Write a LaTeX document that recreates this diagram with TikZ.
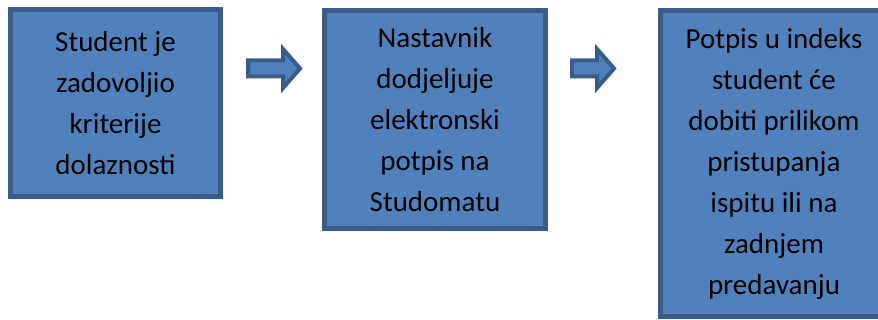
\documentclass[tikz,border=0pt]{standalone}
\usepackage{fontspec}
\setmainfont{Carlito}
\usepackage{tikz}
\usetikzlibrary{positioning, calc}

\definecolor{boxfill}{HTML}{4F81BD}
\definecolor{boxline}{HTML}{385D8A}

\begin{document}
\begin{tikzpicture}[
  x=1pt, y=1pt,
  stage/.style = {draw=boxline, fill=boxfill, line width=5pt, rectangle,
                  align=center, text=black, inner sep=0pt,
                  font=\fontsize{29pt}{41pt}\selectfont},
  flow/.style  = {draw=boxline, fill=boxfill, line width=4pt, line join=miter},
]
  \useasboundingbox (0,0) rectangle (878,-320);

  \node[stage, anchor=north west, minimum width=210pt, minimum height=187pt]
        (crit) at (8,-7) {Student je\\zadovoljio\\kriterije\\dolaznosti};
  \node[stage, below right=1pt and 99pt of crit.north east,
        minimum width=221pt, minimum height=218pt]
        (sign) {Nastavnik\\dodjeljuje\\elektronski\\potpis na\\Studomatu};
  \node[stage, right=110pt of sign.north east, anchor=north west,
        minimum width=227pt, minimum height=306pt]
        (index) {Potpis u indeks\\student će\\dobiti prilikom\\pristupanja\\ispitu ili na\\zadnjem\\predavanju};

  % block arrows between the stages
  \coordinate (a1) at ($(crit.north east)+(25,-61.5)$);
  \coordinate (a2) at ($(sign.north east)+(24,-60.5)$);
  \draw[flow] (a1) ++(0,8) -- ++(35,0) -- ++(0,11.5) -- ++(17,-19.5)
              -- ++(-17,-19.5) -- ++(0,11.5) -- ++(-35,0) -- cycle;
  \draw[flow] (a2) ++(0,8) -- ++(25,0) -- ++(0,11.5) -- ++(17,-19.5)
              -- ++(-17,-19.5) -- ++(0,11.5) -- ++(-25,0) -- cycle;
\end{tikzpicture}
\end{document}
